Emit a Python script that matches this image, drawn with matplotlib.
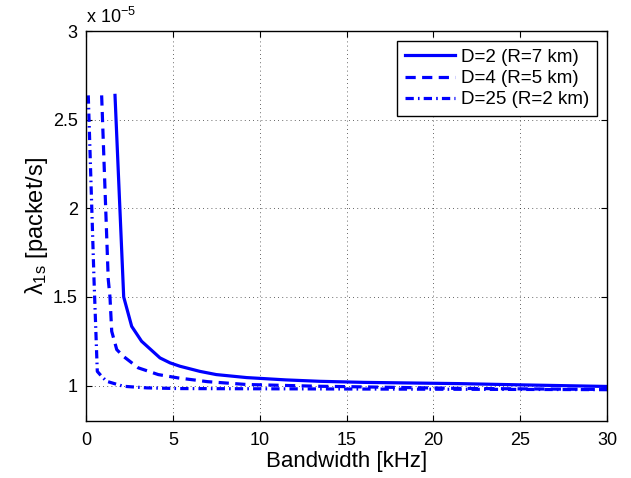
import matplotlib
matplotlib.use("Agg")
import matplotlib.pyplot as plt

plt.rcParams['font.family'] = ['Liberation Sans', 'DejaVu Sans']
plt.rcParams['mathtext.fontset'] = 'custom'
plt.rcParams['mathtext.rm'] = 'Liberation Sans'
plt.rcParams['mathtext.it'] = 'Liberation Sans'
plt.rcParams['mathtext.sf'] = 'Liberation Sans'

# values in units of 1e-5 packet/s
bw_d2 = [1.67, 2.17, 2.63, 3.2, 4.26, 4.84, 5.41, 6.56, 7.5, 9.25, 11.5, 13.47, 16.0, 21.5, 25.0, 30.0]
lam_d2 = [2.637, 1.50, 1.334, 1.25, 1.156, 1.128, 1.109, 1.080, 1.062, 1.045, 1.032, 1.024, 1.018, 1.011, 1.004, 0.995]

bw_d4 = [0.90, 1.28, 1.38, 1.48, 1.77, 2.15, 3.01, 4.16, 5.31, 7.0, 9.25, 13.47, 15.0, 21.5, 30.0]
lam_d4 = [2.637, 1.60, 1.50, 1.306, 1.203, 1.165, 1.10, 1.062, 1.043, 1.022, 1.006, 0.996, 0.994, 0.984, 0.978]

bw_d25 = [0.13, 0.46, 0.65, 0.90, 1.19, 2.15, 3.49, 5.4, 13.5, 30.0]
lam_d25 = [2.637, 1.60, 1.08, 1.052, 1.024, 0.996, 0.987, 0.983, 0.981, 0.977]

labels = ['D=2 (R=7 km)', 'D=4 (R=5 km)', 'D=25 (R=2 km)']
xticks = [0, 5, 10, 15, 20, 25, 30]
yticks = [1, 1.5, 2, 2.5, 3]

fig = plt.figure(figsize=(6.31, 4.78), dpi=100)
ax = fig.add_axes([0.1363, 0.1192, 0.9620 - 0.1363, 0.9351 - 0.1192])

lw = 2.3
ax.plot(bw_d2, lam_d2, color='#0000ff', lw=lw, linestyle='-', label=labels[0])
ax.plot(bw_d4, lam_d4, color='#0000ff', lw=lw, linestyle=(0, (3.2, 2.0)), label=labels[1])
ax.plot(bw_d25, lam_d25, color='#0000ff', lw=lw, linestyle=(0, (2.6, 1.3, 0.5, 1.3)), label=labels[2])

ax.set_xlim(0, 30)
ax.set_ylim(0.8, 3)
ax.set_xticks(xticks)
ax.set_yticks(yticks)
ax.set_yticklabels(['1', '1.5', '2', '2.5', '3'])
ax.tick_params(direction='in', top=True, right=True, labelsize=13, length=4, width=0.8)
ax.tick_params(axis='x', pad=8)
ax.tick_params(axis='y', pad=6)
ax.grid(True, linestyle=(0, (1, 4)), color='black', linewidth=0.6, alpha=0.8)
for s in ax.spines.values():
    s.set_linewidth(1.0)

ax.set_xlabel('Bandwidth [kHz]', fontsize=16, labelpad=1)
ax.set_ylabel(r'$\lambda_{\rm 1s}$ [packet/s]', fontsize=17, labelpad=2)
ax.text(0.0, 1.01, r'x 10$^{-5}$', transform=ax.transAxes, fontsize=13, ha='left', va='bottom')

leg = ax.legend(loc='upper right', fontsize=13.5, frameon=True, fancybox=False,
                edgecolor='black', framealpha=1, labelspacing=0.22, handlelength=2.7,
                handletextpad=0.3, borderpad=0.4, borderaxespad=0.55)
leg.get_frame().set_linewidth(1.0)

fig.savefig('out.png', dpi=100)
